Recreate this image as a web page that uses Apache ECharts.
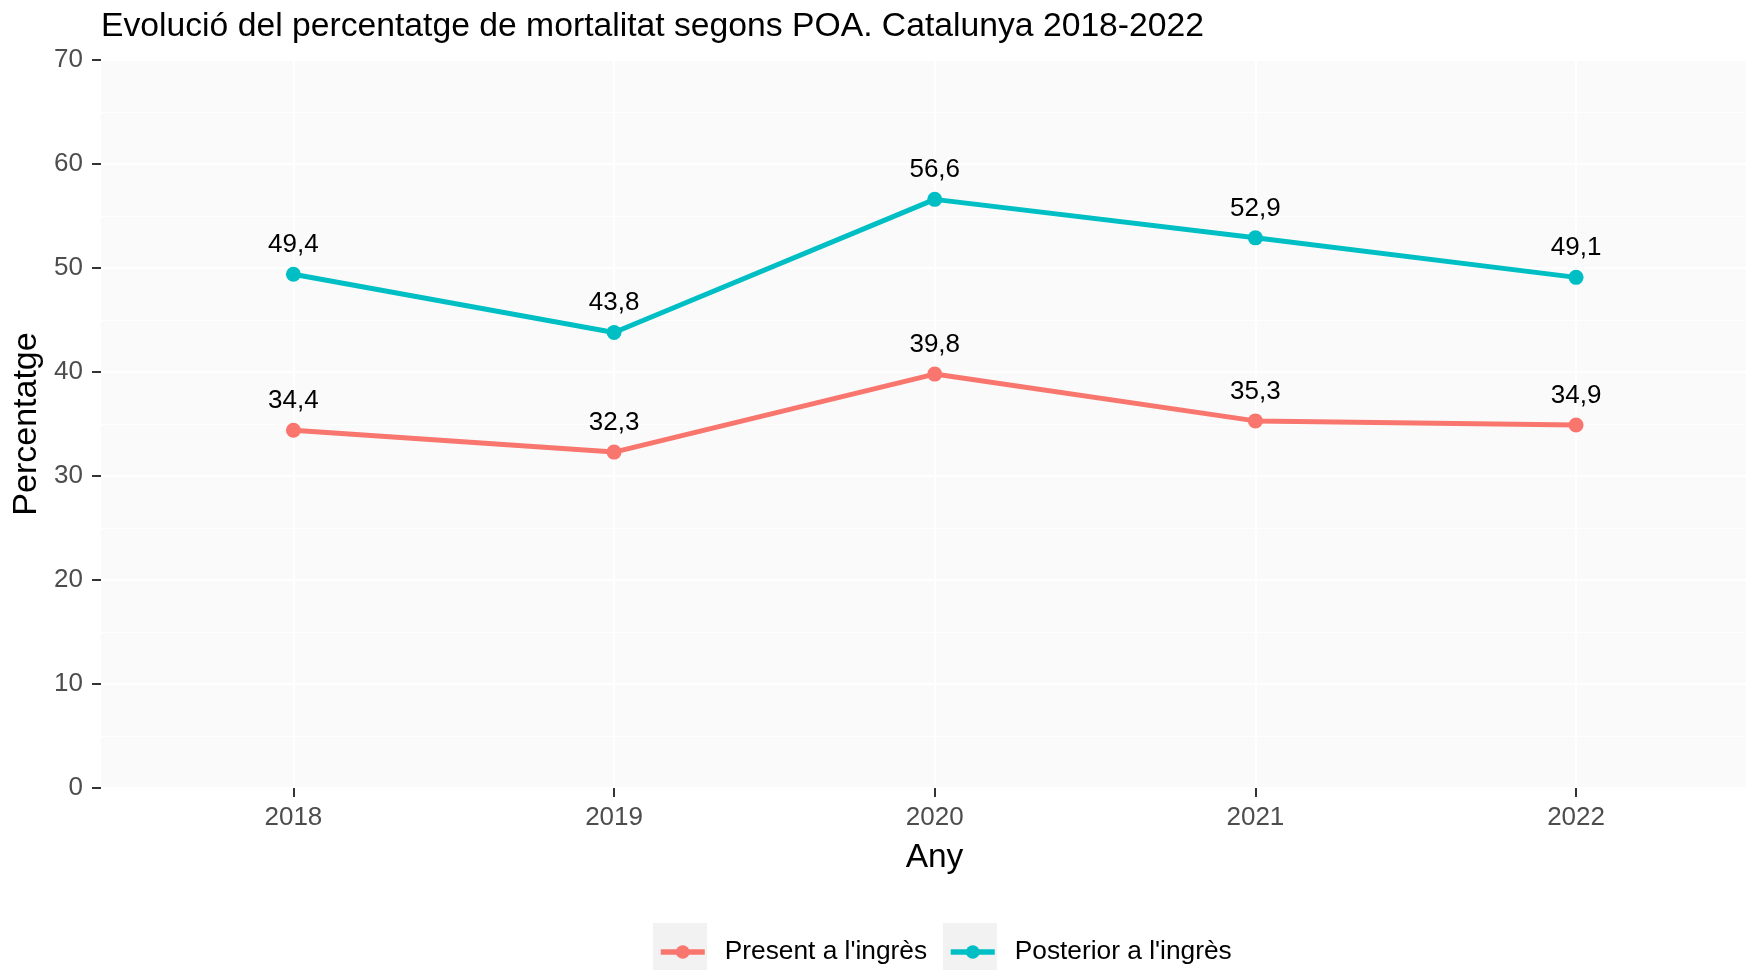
<!DOCTYPE html>
<html>
<head>
<meta charset="utf-8">
<script src="https://cdn.jsdelivr.net/npm/echarts@6/dist/echarts.min.js"></script>
<style>
  html, body { margin: 0; padding: 0; background: #fff; }
  #chart { width: 1746px; height: 970px; }
</style>
</head>
<body>
<div id="chart"></div>
<script>
// anys i percentatges llegits del gràfic
const years = [2018, 2019, 2020, 2021, 2022]
const present = [34.4, 32.3, 39.8, 35.3, 34.9]
const posterior = [49.4, 43.8, 56.6, 52.9, 49.1]
const seriesNames = ["Present a l'ingrès", "Posterior a l'ingrès"]
const colors = ['#F8766D', '#00BFC4']

const FONT = '"Liberation Sans", Arial, sans-serif'

const chart = echarts.init(document.getElementById('chart'))

function makeSeries(name, values, color) {
  return {
    name,
    type: 'line',
    data: years.map((y, i) => [y, values[i]]),
    symbol: 'circle',
    symbolSize: 15,
    lineStyle: { width: 5, color },
    itemStyle: { color },
    label: {
      show: true,
      position: 'top',
      distance: 9,
      color: '#000',
      fontFamily: FONT,
      fontSize: 26,
      formatter: p => p.value[1].toFixed(1).replace('.', ','),
    },
    emphasis: { disabled: true },
    animation: false,
  }
}

// fons grisos de les claus de llegenda
const keyBoxes = [653, 943].map(x => ({
  type: 'rect',
  shape: { x, y: 923, width: 54, height: 47 },
  style: { fill: '#F2F2F2' },
  z: 0,
}))

chart.setOption({
  animation: false,
  title: {
    text: 'Evolució del percentatge de mortalitat segons POA. Catalunya 2018-2022',
    left: 96,
    top: 5,
    textStyle: { fontFamily: FONT, fontSize: 33.7, fontWeight: 'normal', color: '#000' },
  },
  graphic: keyBoxes,
  legend: [0, 1].map((i) => ({
    data: [seriesNames[i]],
    left: i === 0 ? 658 : 948,
    top: 939,
    padding: 0,
    itemWidth: 44,
    itemHeight: 17,
    lineStyle: { width: 5.5 },
    formatter: name => '{g|\u00a0}{t|' + name + '}',
    textStyle: {
      fontFamily: FONT, fontSize: 26.3, color: '#000',
      rich: {
        g: { width: 15, fontSize: 26.3 },
        t: { fontFamily: FONT, fontSize: 26.3, color: '#000' },
      },
    },
    selectedMode: false,
  })),
  grid: {
    left: 101,
    right: 0,
    top: 60,
    bottom: 182,
    show: true,
    backgroundColor: '#FAFAFA',
    borderWidth: 0,
  },
  xAxis: {
    type: 'value',
    // el panell continua més enllà de la vora dreta de la imatge
    min: 2017.4,
    max: 2022.53,
    name: 'Any',
    nameLocation: 'middle',
    nameGap: 53,
    nameTextStyle: { fontFamily: FONT, fontSize: 33.5, color: '#000', padding: [0, 0, 0, 22] },
    axisLine: { show: false },
    axisTick: { show: true, length: 9, lineStyle: { color: '#333', width: 2 }, customValues: years },
    axisLabel: {
      customValues: years,
      margin: 17,
      fontFamily: FONT,
      fontSize: 26,
      color: '#4D4D4D',
      formatter: v => String(v),
    },
    splitLine: { show: true, lineStyle: { color: '#fff', width: 2 } },
  },
  yAxis: {
    type: 'value',
    min: 0,
    max: 70,
    interval: 10,
    name: 'Percentatge',
    nameLocation: 'middle',
    nameGap: 53,
    nameRotate: 90,
    nameTextStyle: { fontFamily: FONT, fontSize: 34, color: '#000' },
    axisLine: { show: false },
    axisTick: { show: true, length: 9, lineStyle: { color: '#333', width: 2 } },
    axisLabel: { margin: 18, fontFamily: FONT, fontSize: 26, color: '#4D4D4D' },
    splitLine: { show: true, lineStyle: { color: '#fff', width: 2 } },
    minorTick: { show: false, splitNumber: 2 },
    minorSplitLine: { show: true, lineStyle: { color: '#fff', width: 1 } },
  },
  series: [
    makeSeries(seriesNames[0], present, colors[0]),
    makeSeries(seriesNames[1], posterior, colors[1]),
  ],
})
</script>
</body>
</html>
